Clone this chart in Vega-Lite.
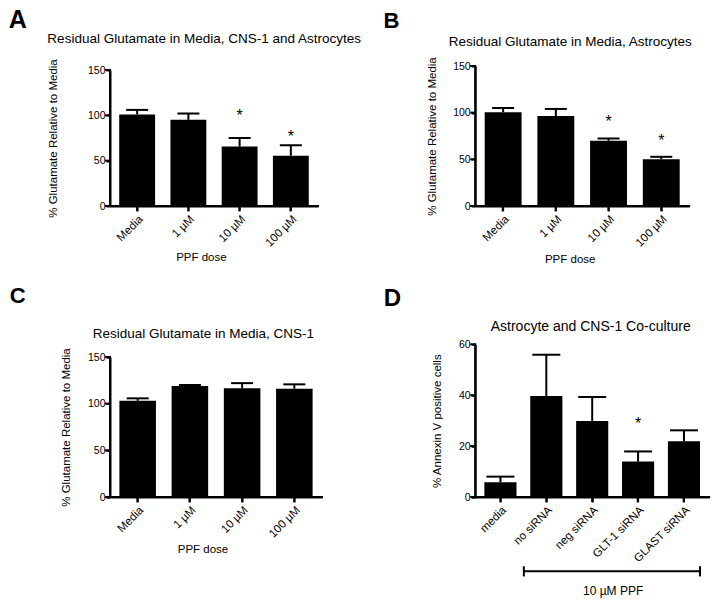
{
  "$schema": "https://vega.github.io/schema/vega-lite/v6.json",
  "background": "white",
  "padding": {"left": 8, "top": 8, "right": 5, "bottom": 5},
  "config": {
    "font": "Liberation Sans",
    "view": {"stroke": null},
    "axis": {"grid": false, "domain": true, "ticks": true, "domainColor": "#000000", "domainWidth": 2, "tickColor": "#000000", "tickWidth": 2, "labelColor": "black", "titleColor": "black", "labelFont": "Liberation Sans", "titleFont": "Liberation Sans", "titleFontWeight": "normal", "titleFontSize": 11.5},
    "axisX": {"tickSize": 5, "labelFontSize": 11.5, "labelPadding": 2, "labelAngle": -45},
    "axisY": {"tickSize": 4, "labelFontSize": 10.5, "labelPadding": 1},
    "rule": {"color": "black", "strokeWidth": 2},
    "tick": {"color": "black", "thickness": 2, "opacity": 1},
    "title": {"font": "Liberation Sans", "fontWeight": "bold", "anchor": "start", "frame": "bounds", "color": "black", "baseline": "alphabetic"}
  },
  "columns": 2,
  "align": "each",
  "bounds": "flush",
  "spacing": {"column": 153.2, "row": 138.3},
  "concat": [
    {
      "title": {"text": "A", "fontSize": 25, "dx": -37.7, "offset": -1.6},
      "width": 212, "height": 140,
      "data": {"values": [
        {"dose": "Media", "mean": 101, "upper": 106},
        {"dose": "1 µM", "mean": 95, "upper": 102},
        {"dose": "10 µM", "mean": 65.5, "upper": 75, "star": 103.5},
        {"dose": "100 µM", "mean": 55.5, "upper": 67, "star": 80.5}
      ]},
      "resolve": {"axis": {"x": "independent"}},
      "layer": [
        {"mark": {"type": "bar", "color": "black"},
         "encoding": {
           "x": {"field": "dose", "type": "nominal", "sort": null,
                 "scale": {"domain": ["Media", "1 µM", "10 µM", "100 µM"], "range": [0, 208], "paddingInner": 0.3, "paddingOuter": 0.18},
                 "axis": {"orient": "bottom", "title": "PPF dose", "titleX": 90.9, "titleY": 54.3, "titleBaseline": "alphabetic"}},
           "y": {"field": "mean", "type": "quantitative", "title": "% Glutamate Relative to Media",
                 "scale": {"domain": [0, 150], "nice": false, "range": [140, 4]},
                 "axis": {"values": [0, 50, 100, 150], "titlePadding": 28.8}}
         }},
        {"mark": {"type": "rule"},
         "encoding": {
           "x": {"field": "dose", "type": "nominal", "sort": null, "axis": null},
           "y": {"field": "mean", "type": "quantitative", "title": "% Glutamate Relative to Media"},
           "y2": {"field": "upper"}
         }},
        {"mark": {"type": "tick", "size": 22},
         "encoding": {
           "x": {"field": "dose", "type": "nominal", "sort": null,
                 "axis": {"orient": "top", "title": "Residual Glutamate in Media, CNS-1 and Astrocytes", "labels": false, "ticks": false, "domain": false, "titleX": 93.7, "titleY": -23.2, "titleBaseline": "alphabetic", "titleFontSize": 13.5}},
           "y": {"field": "upper", "type": "quantitative", "title": "% Glutamate Relative to Media"}
         }},
        {"transform": [{"filter": "isValid(datum.star)"}],
         "mark": {"type": "text", "text": "*", "fontSize": 16, "dy": 9, "baseline": "alphabetic", "color": "black"},
         "encoding": {
           "x": {"field": "dose", "type": "nominal", "sort": null, "axis": null},
           "y": {"field": "star", "type": "quantitative", "title": "% Glutamate Relative to Media"}
         }},
        {"data": {"values": [{"first": "Media", "last": "100 µM"}]},
         "layer": [
           {"mark": {"type": "rule", "strokeCap": "square"},
            "encoding": {
              "x": {"field": "first", "type": "nominal", "bandPosition": -0.2571, "axis": null},
              "x2": {"field": "last", "bandPosition": 1.2571},
              "y": {"datum": 0, "type": "quantitative", "title": "% Glutamate Relative to Media"}
            }},
           {"mark": {"type": "rule", "strokeCap": "square"},
            "encoding": {
              "x": {"field": "first", "type": "nominal", "bandPosition": -0.2571, "axis": null},
              "y": {"datum": 0, "type": "quantitative", "title": "% Glutamate Relative to Media"},
              "y2": {"datum": 150}
            }}
         ]},
        {"data": {"values": [{"first": "Media", "tick": 0}, {"first": "Media", "tick": 50}, {"first": "Media", "tick": 100}, {"first": "Media", "tick": 150}]},
         "layer": [
           {"mark": {"type": "rule"},
            "encoding": {
              "x": {"field": "first", "type": "nominal", "bandPosition": -0.2571, "axis": null},
              "x2": {"field": "first", "bandPosition": -0.3965},
              "y": {"field": "tick", "type": "quantitative", "title": "% Glutamate Relative to Media"}
            }}
         ]},
        {"data": {"values": [{"cat": "Media"}, {"cat": "1 µM"}, {"cat": "10 µM"}, {"cat": "100 µM"}]},
         "layer": [
           {"mark": {"type": "rule"},
            "encoding": {
              "x": {"field": "cat", "type": "nominal", "axis": null},
              "y": {"datum": 0, "type": "quantitative", "title": "% Glutamate Relative to Media"},
              "y2": {"datum": -5.5}
            }}
         ]}
      ]
    },
    {
      "title": {"text": "B", "fontSize": 22, "dx": -42.8, "offset": 0.9},
      "width": 214, "height": 140,
      "data": {"values": [
        {"dose": "Media", "mean": 100.5, "upper": 105},
        {"dose": "1 µM", "mean": 96.5, "upper": 104},
        {"dose": "10 µM", "mean": 69.8, "upper": 72.3, "star": 94.8},
        {"dose": "100 µM", "mean": 50.2, "upper": 52.7, "star": 74.1}
      ]},
      "resolve": {"axis": {"x": "independent"}},
      "layer": [
        {"mark": {"type": "bar", "color": "black"},
         "encoding": {
           "x": {"field": "dose", "type": "nominal", "sort": null,
                 "scale": {"domain": ["Media", "1 µM", "10 µM", "100 µM"], "paddingInner": 0.3, "paddingOuter": 0.18},
                 "axis": {"orient": "bottom", "title": "PPF dose", "titleX": 94.5, "titleY": 56, "titleBaseline": "alphabetic"}},
           "y": {"field": "mean", "type": "quantitative", "title": "% Glutamate Relative to Media",
                 "scale": {"domain": [0, 150], "nice": false},
                 "axis": {"values": [0, 50, 100, 150], "titlePadding": 15.5}}
         }},
        {"mark": {"type": "rule"},
         "encoding": {
           "x": {"field": "dose", "type": "nominal", "sort": null, "axis": null},
           "y": {"field": "mean", "type": "quantitative", "title": "% Glutamate Relative to Media"},
           "y2": {"field": "upper"}
         }},
        {"mark": {"type": "tick", "size": 22},
         "encoding": {
           "x": {"field": "dose", "type": "nominal", "sort": null,
                 "axis": {"orient": "top", "title": "Residual Glutamate in Media, Astrocytes", "labels": false, "ticks": false, "domain": false, "titleX": 94.5, "titleY": -20.7, "titleBaseline": "alphabetic", "titleFontSize": 13.5}},
           "y": {"field": "upper", "type": "quantitative", "title": "% Glutamate Relative to Media"}
         }},
        {"transform": [{"filter": "isValid(datum.star)"}],
         "mark": {"type": "text", "text": "*", "fontSize": 16, "dy": 9, "baseline": "alphabetic", "color": "black"},
         "encoding": {
           "x": {"field": "dose", "type": "nominal", "sort": null, "axis": null},
           "y": {"field": "star", "type": "quantitative", "title": "% Glutamate Relative to Media"}
         }},
        {"data": {"values": [{"first": "Media", "last": "100 µM"}]},
         "layer": [
           {"mark": {"type": "rule", "strokeCap": "square"},
            "encoding": {
              "x": {"field": "first", "type": "nominal", "bandPosition": -0.2571, "axis": null},
              "x2": {"field": "last", "bandPosition": 1.2571},
              "y": {"datum": 0, "type": "quantitative", "title": "% Glutamate Relative to Media"}
            }},
           {"mark": {"type": "rule", "strokeCap": "square"},
            "encoding": {
              "x": {"field": "first", "type": "nominal", "bandPosition": -0.2571, "axis": null},
              "y": {"datum": 0, "type": "quantitative", "title": "% Glutamate Relative to Media"},
              "y2": {"datum": 150}
            }}
         ]},
        {"data": {"values": [{"first": "Media", "tick": 0}, {"first": "Media", "tick": 50}, {"first": "Media", "tick": 100}, {"first": "Media", "tick": 150}]},
         "layer": [
           {"mark": {"type": "rule"},
            "encoding": {
              "x": {"field": "first", "type": "nominal", "bandPosition": -0.2571, "axis": null},
              "x2": {"field": "first", "bandPosition": -0.3927},
              "y": {"field": "tick", "type": "quantitative", "title": "% Glutamate Relative to Media"}
            }}
         ]},
        {"data": {"values": [{"cat": "Media"}, {"cat": "1 µM"}, {"cat": "10 µM"}, {"cat": "100 µM"}]},
         "layer": [
           {"mark": {"type": "rule"},
            "encoding": {
              "x": {"field": "cat", "type": "nominal", "axis": null},
              "y": {"datum": 0, "type": "quantitative", "title": "% Glutamate Relative to Media"},
              "y2": {"datum": -5.36}
            }}
         ]}
      ]
    },
    {
      "title": {"text": "C", "fontSize": 22, "dx": -51, "offset": 18.7},
      "width": 212, "height": 152.7,
      "data": {"values": [
        {"dose": "Media", "mean": 103, "upper": 105.7},
        {"dose": "1 µM", "mean": 119, "upper": 120},
        {"dose": "10 µM", "mean": 116.5, "upper": 122},
        {"dose": "100 µM", "mean": 116, "upper": 120.7}
      ]},
      "resolve": {"axis": {"x": "independent"}},
      "layer": [
        {"mark": {"type": "bar", "color": "black"},
         "encoding": {
           "x": {"field": "dose", "type": "nominal", "sort": null,
                 "scale": {"domain": ["Media", "1 µM", "10 µM", "100 µM"], "paddingInner": 0.3, "paddingOuter": 0.18},
                 "axis": {"orient": "bottom", "title": "PPF dose", "titleX": 92.5, "titleY": 55.6, "titleBaseline": "alphabetic"}},
           "y": {"field": "mean", "type": "quantitative", "title": "% Glutamate Relative to Media",
                 "scale": {"domain": [0, 150], "nice": false, "range": [152.7, 12.7]},
                 "axis": {"values": [0, 50, 100, 150], "titlePadding": 15.8}}
         }},
        {"mark": {"type": "rule"},
         "encoding": {
           "x": {"field": "dose", "type": "nominal", "sort": null, "axis": null},
           "y": {"field": "mean", "type": "quantitative", "title": "% Glutamate Relative to Media"},
           "y2": {"field": "upper"}
         }},
        {"mark": {"type": "tick", "size": 22},
         "encoding": {
           "x": {"field": "dose", "type": "nominal", "sort": null,
                 "axis": {"orient": "top", "title": "Residual Glutamate in Media, CNS-1", "labels": false, "ticks": false, "domain": false, "titleX": 92.9, "titleY": -7, "titleBaseline": "alphabetic", "titleFontSize": 13.5}},
           "y": {"field": "upper", "type": "quantitative", "title": "% Glutamate Relative to Media"}
         }},
        {"data": {"values": [{"first": "Media", "last": "100 µM"}]},
         "layer": [
           {"mark": {"type": "rule", "strokeCap": "square"},
            "encoding": {
              "x": {"field": "first", "type": "nominal", "bandPosition": -0.2571, "axis": null},
              "x2": {"field": "last", "bandPosition": 1.2571},
              "y": {"datum": 0, "type": "quantitative", "title": "% Glutamate Relative to Media"}
            }},
           {"mark": {"type": "rule", "strokeCap": "square"},
            "encoding": {
              "x": {"field": "first", "type": "nominal", "bandPosition": -0.2571, "axis": null},
              "y": {"datum": 0, "type": "quantitative", "title": "% Glutamate Relative to Media"},
              "y2": {"datum": 150}
            }}
         ]},
        {"data": {"values": [{"first": "Media", "tick": 0}, {"first": "Media", "tick": 50}, {"first": "Media", "tick": 100}, {"first": "Media", "tick": 150}]},
         "layer": [
           {"mark": {"type": "rule"},
            "encoding": {
              "x": {"field": "first", "type": "nominal", "bandPosition": -0.2571, "axis": null},
              "x2": {"field": "first", "bandPosition": -0.394},
              "y": {"field": "tick", "type": "quantitative", "title": "% Glutamate Relative to Media"}
            }}
         ]},
        {"data": {"values": [{"cat": "Media"}, {"cat": "1 µM"}, {"cat": "10 µM"}, {"cat": "100 µM"}]},
         "layer": [
           {"mark": {"type": "rule"},
            "encoding": {
              "x": {"field": "cat", "type": "nominal", "axis": null},
              "y": {"datum": 0, "type": "quantitative", "title": "% Glutamate Relative to Media"},
              "y2": {"datum": -5.36}
            }}
         ]}
      ]
    },
    {
      "title": {"text": "D", "fontSize": 24, "dx": -48, "offset": 8},
      "width": 234, "height": 152.7,
      "data": {"values": [
        {"group": "media", "mean": 5.8, "upper": 8.0},
        {"group": "no siRNA", "mean": 39.7, "upper": 55.9},
        {"group": "neg siRNA", "mean": 29.9, "upper": 39.3},
        {"group": "GLT-1 siRNA", "mean": 13.9, "upper": 17.9, "star": 30.4},
        {"group": "GLAST siRNA", "mean": 21.9, "upper": 26.2}
      ]},
      "resolve": {"axis": {"x": "independent"}},
      "layer": [
        {"mark": {"type": "bar", "color": "black"},
         "encoding": {
           "x": {"field": "group", "type": "nominal", "sort": null,
                 "scale": {"domain": ["media", "no siRNA", "neg siRNA", "GLT-1 siRNA", "GLAST siRNA"], "paddingInner": 0.3, "paddingOuter": 0.2},
                 "axis": {"orient": "bottom", "title": null}},
           "y": {"field": "mean", "type": "quantitative", "title": "% Annexin V positive cells",
                 "scale": {"domain": [0, 60], "nice": false},
                 "axis": {"values": [0, 20, 40, 60], "titlePadding": 15.8}}
         }},
        {"mark": {"type": "rule"},
         "encoding": {
           "x": {"field": "group", "type": "nominal", "sort": null, "axis": null},
           "y": {"field": "mean", "type": "quantitative", "title": "% Annexin V positive cells"},
           "y2": {"field": "upper"}
         }},
        {"mark": {"type": "tick", "size": 28},
         "encoding": {
           "x": {"field": "group", "type": "nominal", "sort": null,
                 "axis": {"orient": "top", "title": "Astrocyte and CNS-1 Co-culture", "labels": false, "ticks": false, "domain": false, "titleX": 115, "titleY": -14, "titleBaseline": "alphabetic", "titleFontSize": 14}},
           "y": {"field": "upper", "type": "quantitative", "title": "% Annexin V positive cells"}
         }},
        {"transform": [{"filter": "isValid(datum.star)"}],
         "mark": {"type": "text", "text": "*", "fontSize": 16, "dy": 9, "baseline": "alphabetic", "color": "black"},
         "encoding": {
           "x": {"field": "group", "type": "nominal", "sort": null, "axis": null},
           "y": {"field": "star", "type": "quantitative", "title": "% Annexin V positive cells"}
         }},
        {"data": {"values": [{"first": "media", "last": "GLAST siRNA"}]},
         "layer": [
           {"mark": {"type": "rule", "strokeCap": "square"},
            "encoding": {
              "x": {"field": "first", "type": "nominal", "bandPosition": -0.2857, "axis": null},
              "x2": {"field": "last", "bandPosition": 1.2857},
              "y": {"datum": 0, "type": "quantitative", "title": "% Annexin V positive cells"}
            }},
           {"mark": {"type": "rule", "strokeCap": "square"},
            "encoding": {
              "x": {"field": "first", "type": "nominal", "bandPosition": -0.2857, "axis": null},
              "y": {"datum": 0, "type": "quantitative", "title": "% Annexin V positive cells"},
              "y2": {"datum": 60}
            }}
         ]},
        {"data": {"values": [{"first": "media", "tick": 0}, {"first": "media", "tick": 20}, {"first": "media", "tick": 40}, {"first": "media", "tick": 60}]},
         "layer": [
           {"mark": {"type": "rule"},
            "encoding": {
              "x": {"field": "first", "type": "nominal", "bandPosition": -0.2857, "axis": null},
              "x2": {"field": "first", "bandPosition": -0.4415},
              "y": {"field": "tick", "type": "quantitative", "title": "% Annexin V positive cells"}
            }}
         ]},
        {"data": {"values": [{"cat": "media"}, {"cat": "no siRNA"}, {"cat": "neg siRNA"}, {"cat": "GLT-1 siRNA"}, {"cat": "GLAST siRNA"}]},
         "layer": [
           {"mark": {"type": "rule"},
            "encoding": {
              "x": {"field": "cat", "type": "nominal", "axis": null},
              "y": {"datum": 0, "type": "quantitative", "title": "% Annexin V positive cells"},
              "y2": {"datum": -1.96}
            }}
         ]},
        {"data": {"values": [{"label": "10 µM PPF", "from": "no siRNA", "to": "GLAST siRNA"}]},
         "layer": [
           {"mark": {"type": "rule"},
            "encoding": {
              "x": {"field": "from", "type": "nominal", "bandPosition": -0.2, "axis": null},
              "x2": {"field": "to", "bandPosition": 1},
              "y": {"datum": -29.2, "type": "quantitative", "title": "% Annexin V positive cells"}
            }},
           {"mark": {"type": "rule"},
            "encoding": {
              "x": {"field": "from", "type": "nominal", "bandPosition": -0.2, "axis": null},
              "y": {"datum": -27.2, "type": "quantitative", "title": "% Annexin V positive cells"},
              "y2": {"datum": -31.2}
            }},
           {"mark": {"type": "rule"},
            "encoding": {
              "x": {"field": "to", "type": "nominal", "bandPosition": 1, "axis": null},
              "y": {"datum": -27.2, "type": "quantitative", "title": "% Annexin V positive cells"},
              "y2": {"datum": -31.2}
            }},
           {"mark": {"type": "text", "fontSize": 12, "baseline": "alphabetic", "align": "center", "color": "black"},
            "encoding": {
              "x": {"datum": "neg siRNA", "type": "nominal", "bandPosition": 1.15, "axis": null},
              "y": {"datum": -38.4, "type": "quantitative", "title": "% Annexin V positive cells"},
              "text": {"field": "label"}
            }}
         ]}
      ]
    }
  ]
}
